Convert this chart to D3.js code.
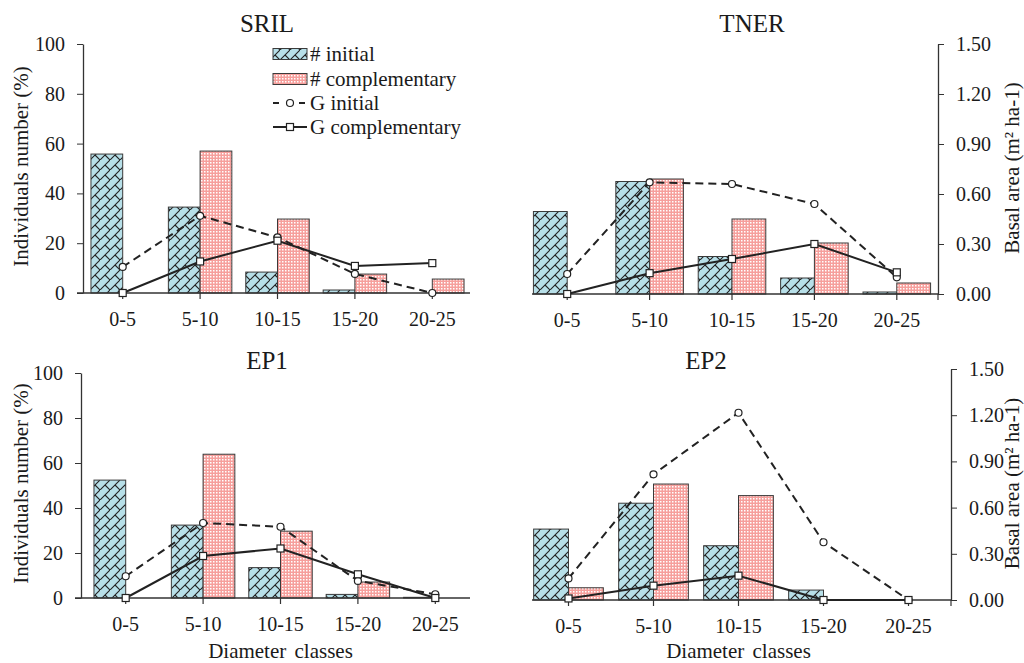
<!DOCTYPE html>
<html>
<head>
<meta charset="utf-8">
<script src="https://cdn.jsdelivr.net/npm/d3@7"></script>
<style>
  body { margin: 0; background: #fff; }
  svg { display: block; }
  text { font-family: "Liberation Serif", "Times New Roman", serif; fill: #1a1a1a; }
</style>
</head>
<body>
<div id="chart"></div>
<script>
// diameter classes (cm)
const classes = ["0-5", "5-10", "10-15", "15-20", "20-25"];

// individuals number (%) - bars
const srilNInit = [55.8, 34.5, 8.4, 1.2, 0];
const srilNComp = [0, 57, 29.7, 7.6, 5.6];
const tnerNInit = [33, 45, 15, 6.4, 0.8];
const tnerNComp = [0, 46, 30, 20.4, 4.4];
const ep1NInit = [52.4, 32.4, 13.5, 1.6, 0.3];
const ep1NComp = [0, 63.9, 29.7, 7.1, 0];
const ep2NInit = [30.7, 41.9, 23.5, 4.3, 0];
const ep2NComp = [5.3, 50.2, 45.2, 0, 0];

// basal area (m2 ha-1) - lines
const srilGInit = [0.157, 0.465, 0.335, 0.115, 0];
const srilGComp = [0, 0.19, 0.315, 0.163, 0.18];
const tnerGInit = [0.12, 0.67, 0.66, 0.54, 0.10];
const tnerGComp = [0, 0.125, 0.21, 0.30, 0.13];
const ep1GInit = [0.145, 0.50, 0.475, 0.114, 0.025];
const ep1GComp = [0, 0.28, 0.33, 0.158, 0];
const ep2GInit = [0.14, 0.816, 1.216, 0.375, 0];
const ep2GComp = [0.01, 0.093, 0.158, 0, 0];

const leftTicks = [0, 20, 40, 60, 80, 100];
const rightTicks = [0, 0.3, 0.6, 0.9, 1.2, 1.5];
const legendLabels = ["# initial", "# complementary", "G initial", "G complementary"];

const panels = [
  { title: "SRIL", nInit: srilNInit, nComp: srilNComp, gInit: srilGInit, gComp: srilGComp,
    x0: 84, x1: 471, axisX: 83, xEnd: 470, yTop: 44, yBot: 293, side: "left",
    titleX: 267, titleY: 32, legend: true },
  { title: "TNER", nInit: tnerNInit, nComp: tnerNComp, gInit: tnerGInit, gComp: tnerGComp,
    x0: 526, x1: 938, axisX: 938, xStart: 532, yTop: 44, yBot: 294, side: "right",
    titleX: 752, titleY: 32, titleRX: 1019 },
  { title: "EP1", nInit: ep1NInit, nComp: ep1NComp, gInit: ep1GInit, gComp: ep1GComp,
    x0: 87, x1: 474, axisX: 81, xEnd: 470, yTop: 373, yBot: 598, side: "left",
    titleX: 267, titleY: 369, xTitle: true },
  { title: "EP2", nInit: ep2NInit, nComp: ep2NComp, gInit: ep2GInit, gComp: ep2GComp,
    x0: 526, x1: 951, axisX: 951, xStart: 532, yTop: 369, yBot: 600, side: "right",
    titleX: 706, titleY: 369, titleRX: 1019, xTitle: true }
];

const ink = "#222";

const svg = d3.select("#chart").append("svg")
  .attr("width", 1024)
  .attr("height", 663);

// fill patterns
const defs = svg.append("defs");
const brick = defs.append("pattern")
  .attr("id", "brick")
  .attr("patternUnits", "userSpaceOnUse")
  .attr("width", 10).attr("height", 10);
brick.append("rect").attr("width", 10).attr("height", 10).attr("fill", "#b7dfe8");
brick.append("path")
  .attr("d", "M-1,11L11,-1M5,5L10,10")
  .attr("stroke", ink).attr("stroke-width", 1.1).attr("fill", "none");

const checker = defs.append("pattern")
  .attr("id", "checker")
  .attr("patternUnits", "userSpaceOnUse")
  .attr("width", 3).attr("height", 3);
checker.append("rect").attr("width", 3).attr("height", 3).attr("fill", "#f69f9c");
checker.append("rect").attr("width", 1.5).attr("height", 1.5).attr("fill", "#fff");

function drawPanel(p) {
  const g = svg.append("g");
  const x = d3.scaleBand().domain(classes).range([p.x0, p.x1]);
  const yN = d3.scaleLinear().domain([0, 100]).range([p.yBot, p.yTop]);
  const yG = d3.scaleLinear().domain([0, 1.5]).range([p.yBot, p.yTop]);
  const bw = x.bandwidth() * 0.41;
  const cx = c => x(c) + x.bandwidth() / 2;

  const initBars = classes.map((c, i) => ({ c, v: p.nInit[i] })).filter(d => d.v > 0);
  const compBars = classes.map((c, i) => ({ c, v: p.nComp[i] })).filter(d => d.v > 0);

  g.selectAll(".bi").data(initBars).enter().append("rect")
    .attr("x", d => cx(d.c) - bw)
    .attr("y", d => yN(d.v))
    .attr("width", bw)
    .attr("height", d => yN(0) - yN(d.v))
    .attr("fill", "url(#brick)")
    .attr("stroke", "#3a3a3a").attr("stroke-width", 1);

  g.selectAll(".bc").data(compBars).enter().append("rect")
    .attr("x", d => cx(d.c))
    .attr("y", d => yN(d.v))
    .attr("width", bw)
    .attr("height", d => yN(0) - yN(d.v))
    .attr("fill", "url(#checker)")
    .attr("stroke", "#3a3a3a").attr("stroke-width", 1);

  // x axis
  const xa = g.append("g")
    .attr("transform", "translate(0," + p.yBot + ")")
    .attr("color", "#333")
    .call(d3.axisBottom(x).tickSizeInner(6).tickSizeOuter(0).tickPadding(12.5));
  xa.select(".domain").remove();
  xa.append("line")
    .attr("x1", p.xStart !== undefined ? p.xStart : p.axisX - 6)
    .attr("x2", p.xEnd !== undefined ? p.xEnd : p.axisX)
    .attr("stroke", "#333").attr("stroke-width", 1.3);
  xa.selectAll("text")
    .attr("font-size", 20)
    .attr("font-family", "Liberation Serif")
    .attr("fill", "#1a1a1a");
  xa.selectAll(".tick line").attr("stroke-width", 1.2);

  // y axis
  if (p.side === "left") {
    const ya = g.append("g")
      .attr("transform", "translate(" + p.axisX + ",0)")
      .attr("color", "#333")
      .call(d3.axisLeft(yN).tickValues(leftTicks).tickSizeInner(6).tickSizeOuter(0).tickPadding(12));
    ya.selectAll("text").attr("font-size", 20).attr("font-family", "Liberation Serif").attr("fill", "#1a1a1a");
    ya.select(".domain").attr("stroke-width", 1.3);
    g.append("text")
      .attr("transform", "translate(28," + ((p.yTop + p.yBot) / 2 - 2) + ") rotate(-90)")
      .attr("text-anchor", "middle")
      .attr("font-size", 21)
      .text("Individuals number (%)");
  } else {
    const ya = g.append("g")
      .attr("transform", "translate(" + p.axisX + ",0)")
      .attr("color", "#333")
      .call(d3.axisRight(yG).tickValues(rightTicks).tickFormat(d3.format(".2f"))
        .tickSizeInner(6).tickSizeOuter(0).tickPadding(12));
    ya.selectAll("text").attr("font-size", 20).attr("font-family", "Liberation Serif").attr("fill", "#1a1a1a");
    ya.select(".domain").attr("stroke-width", 1.3);
    g.append("line")
      .attr("x1", p.axisX).attr("x2", p.axisX)
      .attr("y1", p.yBot).attr("y2", p.yBot + 6)
      .attr("stroke", "#333").attr("stroke-width", 1.2);
    g.append("text")
      .attr("transform", "translate(" + p.titleRX + "," + ((p.yTop + p.yBot) / 2 - 1) + ") rotate(-90)")
      .attr("text-anchor", "middle")
      .attr("font-size", 21)
      .text("Basal area (m² ha-1)");
  }

  // basal area lines
  const line = d3.line().x(d => cx(d.c)).y(d => yG(d.v));
  const gi = classes.map((c, i) => ({ c, v: p.gInit[i] }));
  const gc = classes.map((c, i) => ({ c, v: p.gComp[i] }));

  g.append("path").datum(gi)
    .attr("d", line)
    .attr("fill", "none").attr("stroke", ink)
    .attr("stroke-width", 2).attr("stroke-dasharray", "8,5");
  g.append("path").datum(gc)
    .attr("d", line)
    .attr("fill", "none").attr("stroke", ink)
    .attr("stroke-width", 2);

  g.selectAll(".mi").data(gi).enter().append("circle")
    .attr("cx", d => cx(d.c)).attr("cy", d => yG(d.v))
    .attr("r", 3.5)
    .attr("fill", "#fff").attr("stroke", ink).attr("stroke-width", 1.2);
  g.selectAll(".mc").data(gc).enter().append("rect")
    .attr("x", d => cx(d.c) - 3.5).attr("y", d => yG(d.v) - 3.5)
    .attr("width", 7).attr("height", 7)
    .attr("fill", "#fff").attr("stroke", ink).attr("stroke-width", 1.2);

  // titles
  g.append("text")
    .attr("x", p.titleX).attr("y", p.titleY)
    .attr("text-anchor", "middle")
    .attr("font-size", 25)
    .text(p.title);

  if (p.xTitle) {
    g.append("text")
      .attr("x", cx(classes[2])).attr("y", 658)
      .attr("text-anchor", "middle")
      .attr("font-size", 21)
      .attr("word-spacing", 3)
      .text("Diameter classes");
  }

  if (p.legend) drawLegend(g);
}

function drawLegend(g) {
  const lx = 273, lw = 34, tx = 310;
  const rows = [54, 79, 103, 127];
  const lg = g.append("g");

  lg.append("rect").attr("x", lx).attr("y", rows[0] - 5.5).attr("width", lw).attr("height", 11)
    .attr("fill", "url(#brick)").attr("stroke", "#3a3a3a");
  lg.append("rect").attr("x", lx).attr("y", rows[1] - 5.5).attr("width", lw).attr("height", 11)
    .attr("fill", "url(#checker)").attr("stroke", "#3a3a3a");

  lg.append("line").attr("x1", lx).attr("x2", lx + lw).attr("y1", rows[2]).attr("y2", rows[2])
    .attr("stroke", ink).attr("stroke-width", 2).attr("stroke-dasharray", "6,7");
  lg.append("circle").attr("cx", lx + lw / 2).attr("cy", rows[2]).attr("r", 3.5)
    .attr("fill", "#fff").attr("stroke", ink).attr("stroke-width", 1.2);

  lg.append("line").attr("x1", lx).attr("x2", lx + lw).attr("y1", rows[3]).attr("y2", rows[3])
    .attr("stroke", ink).attr("stroke-width", 2);
  lg.append("rect").attr("x", lx + lw / 2 - 3.5).attr("y", rows[3] - 3.5).attr("width", 7).attr("height", 7)
    .attr("fill", "#fff").attr("stroke", ink).attr("stroke-width", 1.2);

  lg.selectAll(".lt").data(legendLabels).enter().append("text")
    .attr("x", tx)
    .attr("y", (d, i) => rows[i] + 7)
    .attr("font-size", 21)
    .text(d => d);
}

panels.forEach(drawPanel);
</script>
</body>
</html>
